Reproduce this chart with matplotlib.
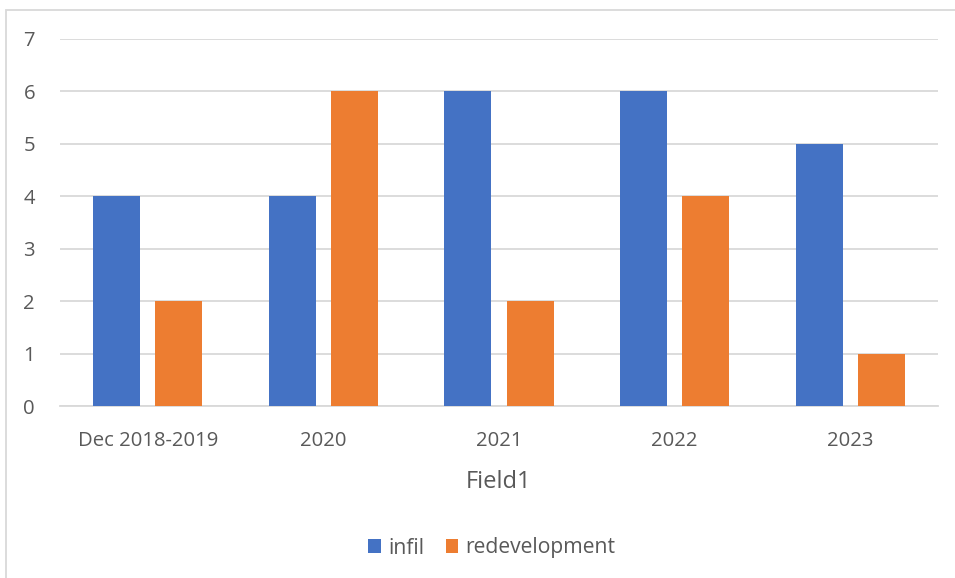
import matplotlib
matplotlib.use("Agg")
import matplotlib.pyplot as plt
from matplotlib.patches import Rectangle
import numpy as np

categories = ["Dec 2018-2019", "2020", "2021", "2022", "2023"]
infil = [4, 4, 6, 6, 5]
redevelopment = [2, 6, 2, 4, 1]
series_names = ["infil", "redevelopment"]
colors = ["#4472C4", "#ED7D31"]
yticks = [0, 1, 2, 3, 4, 5, 6, 7]

plt.rcParams['font.family'] = ['Open Sans', 'DejaVu Sans']
txt = "#595959"
grid = "#D9D9D9"

W, H = 955, 578
fig = plt.figure(figsize=(W/100, H/100), dpi=100)
fig.patches.append(Rectangle((6/W, -0.1), 1.2, 1 - 10/H + 0.1, transform=fig.transFigure,
                             fill=False, edgecolor=grid, linewidth=1.3, zorder=0))

ax = fig.add_axes([60/W, 1 - 406/H, (938 - 60)/W, (406 - 39)/H])
x = np.arange(len(categories))
bw = 0.268
off = 0.177
ax.bar(x - off, infil, width=bw, color=colors[0], label=series_names[0], zorder=3)
ax.bar(x + off, redevelopment, width=bw, color=colors[1], label=series_names[1], zorder=3)

ax.set_xlim(-0.5, len(categories) - 0.5)
ax.set_ylim(0, 7)
ax.set_yticks(yticks)
ax.set_xticks(x)
ax.set_xticklabels(categories)
ax.yaxis.grid(True, color=grid, linewidth=1.3, zorder=0)
for s in ["top", "right", "left"]:
    ax.spines[s].set_visible(False)
ax.spines["bottom"].set_color(grid)
ax.spines["bottom"].set_linewidth(1.3)
ax.tick_params(axis="both", length=0, labelsize=14.6, labelcolor=txt)
ax.tick_params(axis="y", pad=18)
ax.tick_params(axis="x", pad=18)
ax.set_xlabel("Field1", fontsize=17, color=txt, labelpad=14)

leg = fig.legend(loc="center", bbox_to_anchor=(492/W, 1 - 548/H), ncol=2, frameon=False,
                 fontsize=15.2, handlelength=0.6, handleheight=0.6, handletextpad=0.35,
                 columnspacing=1.0)
for t in leg.get_texts():
    t.set_color(txt)

fig.savefig("out.png", dpi=100)
